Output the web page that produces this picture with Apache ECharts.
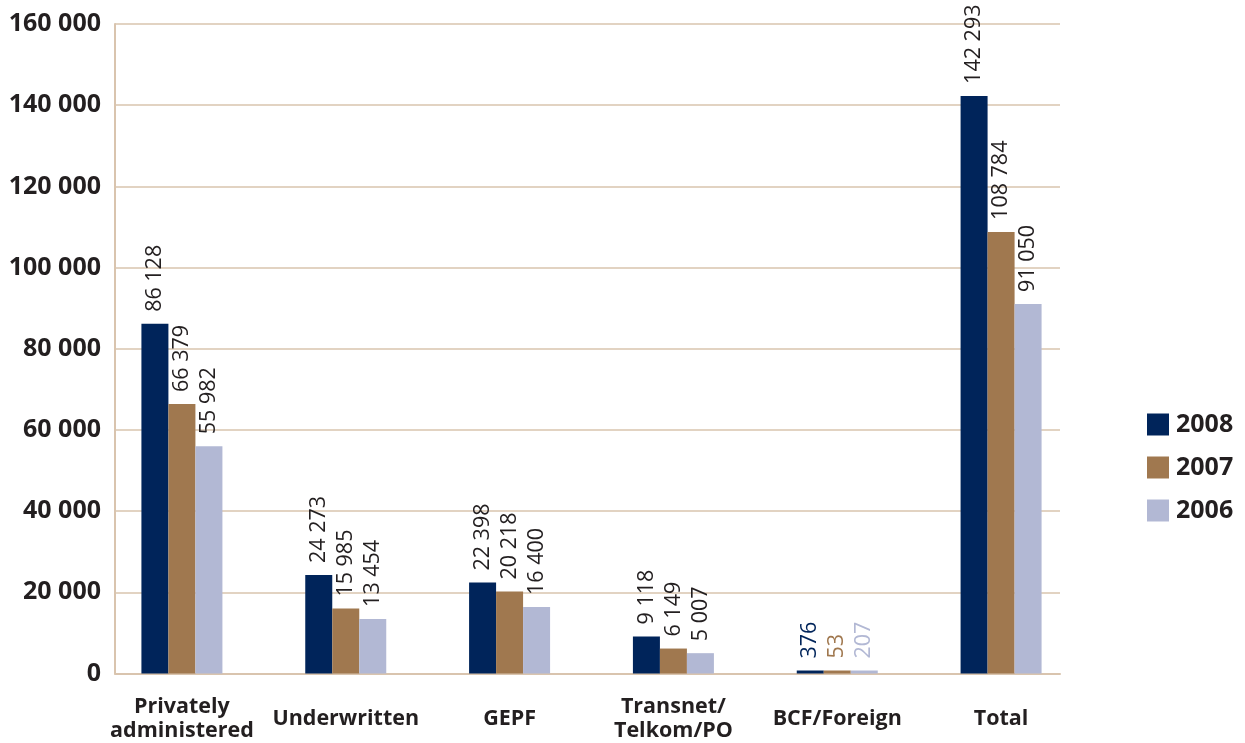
<!DOCTYPE html>
<html>
<head>
<meta charset="utf-8">
<script src="https://cdn.jsdelivr.net/npm/echarts@6/dist/echarts.min.js"></script>
<style>
  html, body { margin: 0; padding: 0; background: #ffffff; }
  #chart { width: 1245px; height: 743px; }
</style>
</head>
<body>
<div id="chart"></div>
<script>
// Membership by fund type, 2006–2008
const categories = ['Privately\nadministered', 'Underwritten', 'GEPF', 'Transnet/\nTelkom/PO', 'BCF/Foreign', 'Total'];
const years = ['2008', '2007', '2006'];
const values2008 = [86128, 24273, 22398, 9118, 376, 142293];
const values2007 = [66379, 15985, 20218, 6149, 53, 108784];
const values2006 = [55982, 13454, 16400, 5007, 207, 91050];
const yTicks = [0, 20000, 40000, 60000, 80000, 100000, 120000, 140000, 160000];

const colors = ['#00245a', '#a0784f', '#b2b8d4'];
const textColor = '#231f20';
const ruleColor = '#d9c4ae';
const fontFamily = '"Open Sans", "Noto Sans", sans-serif';

// Thousands separated by a space: 86128 -> "86 128"
function spaced(v) {
  return String(Math.round(v)).replace(/\B(?=(\d{3})+(?!\d))/g, ' ');
}

// The smallest group takes its label colour from the bar itself
const colouredLabelIndex = categories.indexOf('BCF/Foreign');

function buildSeries(name, values, color) {
  return {
    name: name,
    type: 'bar',
    xAxisIndex: 1,
    yAxisIndex: 1,
    barWidth: 27,
    barGap: '0%',
    barMinHeight: 3,
    itemStyle: { color: color },
    label: {
      show: true,
      position: 'top',
      rotate: 90,
      align: 'left',
      verticalAlign: 'middle',
      distance: 12,
      fontFamily: fontFamily,
      fontSize: 21.5,
      color: textColor,
      formatter: p => spaced(p.value)
    },
    data: values.map((v, i) => i === colouredLabelIndex
      ? { value: v, label: { color: color } }
      : v)
  };
}

const chart = echarts.init(document.getElementById('chart'), null, { renderer: 'canvas' });
chart.setOption({
  animation: false,
  backgroundColor: '#ffffff',
  textStyle: { fontFamily: fontFamily },
  grid: [
    // frame: value axis, rules and baseline
    { left: 115, right: 185, top: 24, bottom: 69.5 },
    // bars and category labels
    { left: 100, right: 162, top: 24, bottom: 69.5 }
  ],
  legend: {
    data: years,
    orient: 'vertical',
    left: 1147,
    top: 412,
    padding: 0,
    itemWidth: 22,
    itemHeight: 22,
    itemGap: 18,
    icon: 'rect',
    textStyle: { fontFamily: fontFamily, fontSize: 25, fontWeight: 'bold', color: textColor, padding: [0, 0, 0, 2] }
  },
  xAxis: [
    {
      gridIndex: 0,
      type: 'value',
      min: 0,
      max: 1,
      axisLine: { show: true, lineStyle: { color: ruleColor, width: 2 } },
      axisTick: { show: false },
      axisLabel: { show: false },
      splitLine: { show: false }
    },
    {
      gridIndex: 1,
      type: 'category',
      data: categories,
      axisLine: { show: false },
      axisTick: { show: false },
      axisLabel: {
        interval: 0,
        margin: 45,
        verticalAlign: 'middle',
        fontFamily: fontFamily,
        fontSize: 21.5,
        fontWeight: 'bold',
        lineHeight: 24,
        color: textColor
      }
    }
  ],
  yAxis: [
    {
      gridIndex: 0,
      type: 'value',
      min: yTicks[0],
      max: yTicks[yTicks.length - 1],
      interval: yTicks[1] - yTicks[0],
      axisLine: { show: true, lineStyle: { color: ruleColor, width: 2 } },
      axisTick: { show: false },
      splitLine: { show: true, lineStyle: { color: ruleColor, width: 1.5 } },
      axisLabel: {
        margin: 14,
        fontFamily: fontFamily,
        fontSize: 25,
        fontWeight: 'bold',
        color: textColor,
        formatter: v => spaced(v)
      }
    },
    {
      gridIndex: 1,
      type: 'value',
      min: yTicks[0],
      max: yTicks[yTicks.length - 1],
      show: false,
      splitLine: { show: false }
    }
  ],
  series: [
    buildSeries(years[0], values2008, colors[0]),
    buildSeries(years[1], values2007, colors[1]),
    buildSeries(years[2], values2006, colors[2])
  ]
});
</script>
</body>
</html>
